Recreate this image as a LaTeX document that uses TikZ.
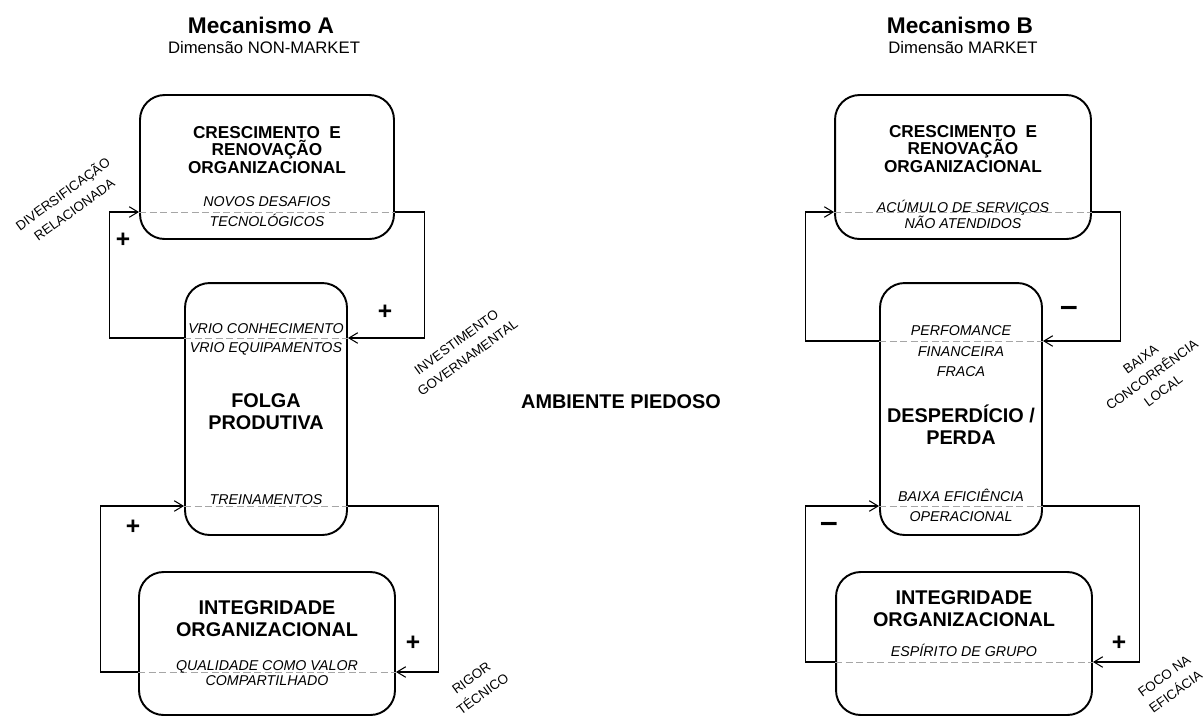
\documentclass[tikz,border=0pt]{standalone}
\usepackage{fontspec}
\setmainfont{Liberation Sans}
\usetikzlibrary{arrows.meta}
\begin{document}
\begin{tikzpicture}[x=0.02cm,y=-0.02cm,
    box/.style={draw,line width=1.1pt,rounded corners=14pt,inner sep=0pt},
    head/.style={font=\fontsize{9.8}{10.2}\selectfont\bfseries,align=center,inner sep=0pt},
    bighead/.style={font=\fontsize{11.3}{12.5}\selectfont\bfseries,align=center,inner sep=0pt},
    cue/.style={font=\fontsize{8.1}{#1}\selectfont\itshape,align=center,inner sep=0pt},
    cue/.default=11,
    tag/.style={font=\fontsize{7.6}{11}\selectfont,align=center,rotate=36,inner sep=0pt},
    sign/.style={font=\fontsize{14}{14}\selectfont\bfseries,inner sep=0pt},
    link/.style={line width=0.6pt,-{Straight Barb[length=5pt,width=6pt]}},
    cut/.style={gray!70,line width=0.5pt,dash pattern=on 4pt off 2pt}]
  \useasboundingbox (0,0) rectangle (1203,718);
  % titulos
  \node[font=\fontsize{12.9}{14}\selectfont\bfseries] (TA) at (261,25) {Mecanismo A};
  \node[font=\fontsize{9.5}{11}\selectfont] (SA) at (264,48) {Dimensão NON-MARKET};
  \node[font=\fontsize{12.9}{14}\selectfont\bfseries] (TB) at (960,25) {Mecanismo B};
  \node[font=\fontsize{9.5}{11}\selectfont] (SB) at (963,48) {Dimensão MARKET};
  \node[bighead] (AMB) at (621,402) {AMBIENTE PIEDOSO};
  % caixas
  \node[box,minimum width=5.08cm,minimum height=2.88cm] (A1) at (267,167) {};
  \node[box,minimum width=3.24cm,minimum height=5.04cm] (A2) at (266,409) {};
  \node[box,minimum width=5.12cm,minimum height=2.86cm] (A3) at (267,643.5) {};
  \node[box,minimum width=5.12cm,minimum height=2.88cm] (B1) at (963,167) {};
  \node[box,minimum width=3.24cm,minimum height=5.04cm] (B2) at (961,409) {};
  \node[box,minimum width=5.12cm,minimum height=2.86cm] (B3) at (964,643.5) {};
  \coordinate (A1d) at (0,212);
  \coordinate (A2u) at (0,338);
  \coordinate (A2d) at (0,506);
  \coordinate (A3d) at (0,672);
  \coordinate (B1d) at (0,212);
  \coordinate (B2u) at (0,341);
  \coordinate (B2d) at (0,506);
  \coordinate (B3d) at (0,662);
  \foreach \n/\l in {A1/A1d, A2/A2u, A2/A2d, A3/A3d, B1/B1d, B2/B2u, B2/B2d, B3/B3d}{
    \draw[cut] (\n.west |- \l) -- (\n.east |- \l);
  }
  % textos
  \node[head] (A1t) at (267,150) {CRESCIMENTO\ \ E\\RENOVAÇÃO\\ORGANIZACIONAL};
  \node[cue=11.4] (A1c) at (267,212) {NOVOS DESAFIOS\\TECNOLÓGICOS};
  \node[cue=10.8] (A2c) at (266,339.5) {VRIO CONHECIMENTO\\VRIO EQUIPAMENTOS};
  \node[bighead] (A2t) at (266,411.5) {FOLGA\\PRODUTIVA};
  \node[cue] (A2b) at (266,500) {TREINAMENTOS};
  \node[bighead] (A3t) at (267,619) {INTEGRIDADE\\ORGANIZACIONAL};
  \node[cue=8.5] (A3c) at (267,673.5) {QUALIDADE COMO VALOR\\COMPARTILHADO};
  \node[head] (B1t) at (963,149) {CRESCIMENTO\ \ E\\RENOVAÇÃO\\ORGANIZACIONAL};
  \node[cue=9.1] (B1c) at (963,214) {ACÚMULO DE SERVIÇOS\\NÃO ATENDIDOS};
  \node[cue=11.7] (B2c) at (961,351.5) {PERFOMANCE\\FINANCEIRA\\FRACA};
  \node[bighead] (B2t) at (961,425) {DESPERDÍCIO /\\PERDA};
  \node[cue=11.4] (B2b) at (961,505) {BAIXA EFICIÊNCIA\\OPERACIONAL};
  \node[bighead] (B3t) at (964,609) {INTEGRIDADE\\ORGANIZACIONAL};
  \node[cue] (B3c) at (964,650) {ESPÍRITO DE GRUPO};
  % lacos
  \draw[link] (A2.west |- A2u) -- ++(-75,0) |- (A1.west |- A1d);
  \draw[link] (A1.east |- A1d) -- ++(30,0) |- (A2.east |- A2u);
  \draw[link] (A2.east |- A2d) -- ++(91,0) |- (A3.east |- A3d);
  \draw[link] (A3.west |- A3d) -- ++(-38,0) |- (A2.west |- A2d);
  \draw[link] (B2.west |- B2u) -- ++(-74,0) |- (B1.west |- B1d);
  \draw[link] (B1.east |- B1d) -- ++(29,0) |- (B2.east |- B2u);
  \draw[link] (B2.east |- B2d) -- ++(97,0) |- (B3.east |- B3d);
  \draw[link] (B3.west |- B3d) -- ++(-30,0) |- (B2.west |- B2d);
  % rotulos e sinais
  \foreach \n/\x/\y/\t in {1/68/201/{DIVERSIFICAÇÃO\\RELACIONADA}, 2/462/350/{INVESTIMENTO\\GOVERNAMENTAL},
      3/477/686/{RIGOR\\TÉCNICO}, 4/1152/375/{BAIXA\\CONCORRÊNCIA\\LOCAL}, 5/1170/684/{FOCO NA\\EFICÁCIA}}{
    \node[tag] (T\n) at (\x,\y) {\t};
  }
  \foreach \n/\x/\y in {1/123/240, 2/385/312, 3/133/527, 4/413/643, 5/1119/643}{
    \node[sign] (P\n) at (\x,\y) {+};
  }
  \foreach \n/\x/\y in {1/1069/311, 2/829/527}{
    \node[sign,font=\fontsize{18}{18}\selectfont\bfseries] (M\n) at (\x,\y) {–};
  }
\end{tikzpicture}
\end{document}
